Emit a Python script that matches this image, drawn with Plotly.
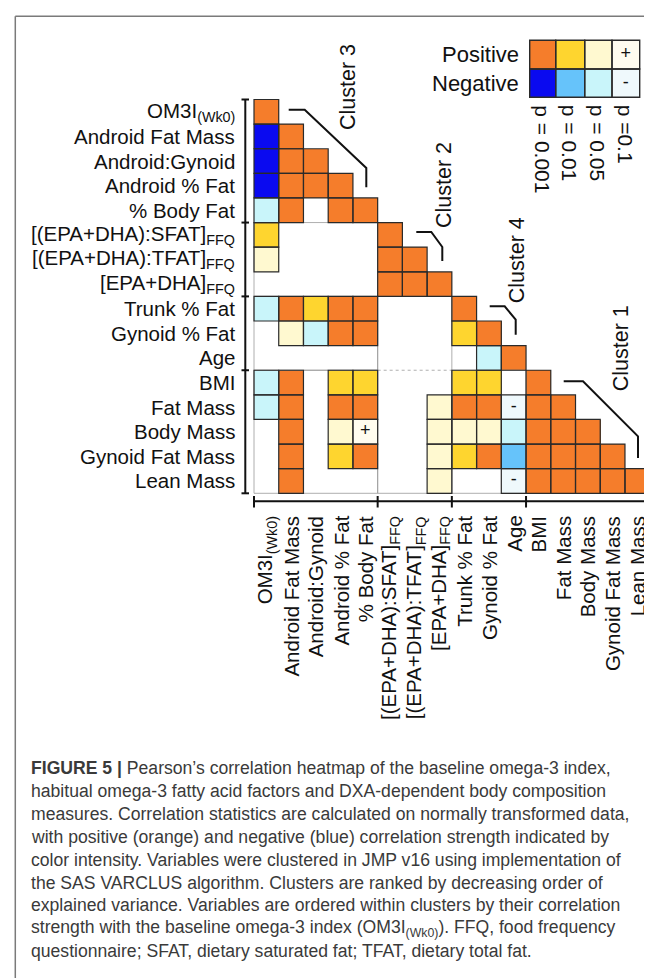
import plotly.graph_objects as go

# variables in cluster order (rows top->bottom, columns left->right)
variables = [
    "OM3I<sub>(Wk0)</sub>", "Android Fat Mass", "Android:Gynoid", "Android % Fat", "% Body Fat",
    "[(EPA+DHA):SFAT]<sub>FFQ</sub>", "[(EPA+DHA):TFAT]<sub>FFQ</sub>", "[EPA+DHA]<sub>FFQ</sub>",
    "Trunk % Fat", "Gynoid % Fat", "Age",
    "BMI", "Fat Mass", "Body Mass", "Gynoid Fat Mass", "Lean Mass",
]
cluster_names = ["Cluster 3", "Cluster 2", "Cluster 4", "Cluster 1"]
cluster_sizes = [5, 3, 3, 5]

# significance code: +/-4 p=0.001, 3 p=0.01, 2 p=0.05, 1 p=0.1, 0 none (lower triangle)
signif = [
    [4],
    [-4, 4],
    [-4, 4, 4],
    [-4, 4, 4, 4],
    [-2, 4, 0, 4, 4],
    [3, 0, 0, 0, 0, 4],
    [2, 0, 0, 0, 0, 4, 4],
    [0, 0, 0, 0, 0, 4, 4, 4],
    [-2, 4, 3, 4, 4, 0, 0, 0, 4],
    [0, 2, -2, 4, 4, 0, 0, 0, 3, 4],
    [0, 0, 0, 0, 0, 0, 0, 0, 0, -2, 4],
    [-2, 4, 0, 3, 3, 0, 0, 0, 3, 3, 0, 4],
    [-2, 4, 0, 4, 4, 0, 0, 2, 4, 4, -1, 4, 4],
    [0, 4, 0, 2, 1, 0, 0, 2, 2, 2, -2, 4, 4, 4],
    [0, 4, 0, 3, 4, 0, 0, 2, 3, 4, -3, 4, 4, 4, 4],
    [0, 4, 0, 0, 0, 0, 0, 2, 0, 0, -1, 4, 4, 4, 4, 4],
]

legend_rows = ["Positive", "Negative"]
legend_codes = [[4, 3, 2, 1], [-4, -3, -2, -1]]
legend_p = ["p = 0.001", "p = 0.01", "p = 0.05", "p =0.1"]

code_colors = {
    -4: "#0a0af0", -3: "#66c3fa", -2: "#c9f5fa", -1: "#eff9fc", 0: "#ffffff",
    1: "#fffcef", 2: "#fff9d0", 3: "#fed52f", 4: "#f57d2b",
}

caption = [
    "<b>FIGURE 5 |</b> Pearson\u2019s correlation heatmap of the baseline omega-3 index,",
    "habitual omega-3 fatty acid factors and DXA-dependent body composition",
    "measures. Correlation statistics are calculated on normally transformed data,",
    "with positive (orange) and negative (blue) correlation strength indicated by",
    "color intensity. Variables were clustered in JMP v16 using implementation of",
    "the SAS VARCLUS algorithm. Clusters are ranked by decreasing order of",
    "explained variance. Variables are ordered within clusters by their correlation",
    "strength with the baseline omega-3 index (OM3I<sub>(Wk0)</sub>). FFQ, food frequency",
    "questionnaire; SFAT, dietary saturated fat; TFAT, dietary total fat.",
]

# ---- page geometry (pixels) ----
W, H = 652, 978
GX0, GX1 = 246.0, 641.7   # grid left/right
GY0, GY1 = 91.5, 485.3    # grid top/bottom
n = len(variables)
cw = (GX1 - GX0) / n
ch = (GY1 - GY0) / n


def px2x(px):
    return (px - GX0) / cw - 0.5


def py2y(py):
    return (py - GY0) / ch - 0.5


FONT = "Liberation Sans, Arial, sans-serif"
steps = list(range(-4, 5))
cscale = []
for k, v in enumerate(steps):
    lo = max(0.0, (k - 0.5) / 8)
    hi = min(1.0, (k + 0.5) / 8)
    cscale += [[lo, code_colors[v]], [hi, code_colors[v]]]

z = [[(row[j] if j < len(row) and row[j] != 0 else None) for j in range(n)] for row in signif]

fig = go.Figure()
fig.add_trace(go.Heatmap(
    z=z, x=list(range(n)), y=list(range(n)), colorscale=cscale, zmin=-4, zmax=4,
    showscale=False, hoverinfo="skip",
))

# legend swatches
lx = [521.7, 547.7, 576.7, 604.0, 631.7]
ly = [32.3, 61.0, 89.3]
fig.add_trace(go.Heatmap(
    z=legend_codes, x=[px2x(v) for v in lx], y=[py2y(v) for v in ly],
    colorscale=cscale, zmin=-4, zmax=4, showscale=False, hoverinfo="skip",
))

shapes = []
# thin block outlines for off-diagonal cluster blocks
starts = [sum(cluster_sizes[:k]) for k in range(len(cluster_sizes))]
thin = dict(color="#9a9a9a", width=0.8)
for a in range(len(cluster_sizes)):
    for b in range(a):
        x0, x1 = starts[b] - 0.5, starts[b] + cluster_sizes[b] - 0.5
        y0, y1 = starts[a] - 0.5, starts[a] + cluster_sizes[a] - 0.5
        # the edge between cluster 4 and cluster 1 rows inside cluster 2 columns is dotted
        top_dotted = (a == 3 and b == 1)
        shapes.append(dict(type="line", x0=x0, x1=x1, y0=y0, y1=y0,
                           line=dict(color="#9a9a9a", width=0.8, dash="dot" if top_dotted else "solid")))
        if not (a == 2 and b == 1):
            shapes.append(dict(type="line", x0=x0, x1=x1, y0=y1, y1=y1, line=thin))
        shapes.append(dict(type="line", x0=x0, x1=x0, y0=y0, y1=y1, line=thin))
        shapes.append(dict(type="line", x0=x1, x1=x1, y0=y0, y1=y1, line=thin))

# cell borders
for i, row in enumerate(signif):
    for j, v in enumerate(row):
        if v != 0:
            shapes.append(dict(type="rect", x0=j - 0.5, x1=j + 0.5, y0=i - 0.5, y1=i + 0.5,
                               line=dict(color="#2a2a2a", width=1.2)))
for r in range(2):
    for c in range(4):
        shapes.append(dict(type="rect", x0=px2x(lx[c]), x1=px2x(lx[c + 1]),
                           y0=py2y(ly[r]), y1=py2y(ly[r + 1]),
                           line=dict(color="#2a2a2a", width=1.4)))

# bracket axes
bounds = [-0.5] + [s + cluster_sizes[k] - 0.5 for k, s in enumerate(starts)]
ax_line = dict(color="#111111", width=2)
shapes.append(dict(type="line", x0=px2x(237.3), x1=px2x(237.3), y0=-0.5, y1=n - 0.5, line=ax_line))
shapes.append(dict(type="line", x0=-0.5, x1=n - 0.5, y0=py2y(493.3), y1=py2y(493.3), line=ax_line))
for b in bounds:
    shapes.append(dict(type="line", x0=px2x(233.5), x1=px2x(241), y0=b, y1=b, line=ax_line))
    shapes.append(dict(type="line", x0=b, x1=b, y0=py2y(488), y1=py2y(499.5), line=ax_line))

# cluster bracket lines
bracket_px = [
    [(280.7, 101.7), (296.7, 101.7), (358.3, 160.0), (358.3, 179.3)],
    [(408.3, 224.0), (423.3, 224.0), (434.3, 239.0), (434.3, 253.0)],
    [(481.7, 298.3), (496.7, 298.3), (507.7, 311.7), (507.7, 326.7)],
    [(555.7, 373.3), (575.0, 373.3), (630.0, 428.3), (630.0, 450.0)],
]
for pts in bracket_px:
    path = "M " + " L ".join(f"{px2x(a):.4f},{py2y(b):.4f}" for a, b in pts)
    shapes.append(dict(type="path", path=path, line=dict(color="#111111", width=2)))

# frame
shapes.append(dict(type="line", xref="paper", yref="paper", x0=7.3 / W, x1=1, y0=1 - 8.3 / H, y1=1 - 8.3 / H,
                   line=dict(color="#7a7a7a", width=1.5)))
shapes.append(dict(type="line", xref="paper", yref="paper", x0=7.3 / W, x1=7.3 / W, y0=0, y1=1 - 8.3 / H,
                   line=dict(color="#7a7a7a", width=1.5)))

# +/- marks
mx, my, mt = [], [], []
for i, row in enumerate(signif):
    for j, v in enumerate(row):
        if abs(v) == 1:
            mx.append(j)
            my.append(i)
            mt.append("+" if v > 0 else "-")
for r in range(2):
    for c in range(4):
        if abs(legend_codes[r][c]) == 1:
            mx.append(px2x((lx[c] + lx[c + 1]) / 2))
            my.append(py2y((ly[r] + ly[r + 1]) / 2))
            mt.append("+" if legend_codes[r][c] > 0 else "-")
fig.add_trace(go.Scatter(x=mx, y=my, mode="text", text=mt, hoverinfo="skip",
                         textfont=dict(family=FONT, size=18, color="#111111")))

ann = []
lab_font = dict(family=FONT, size=20.5, color="#111111")
for i, v in enumerate(variables):
    ann.append(dict(x=px2x(228.5), y=i, text=v, xanchor="right", yanchor="middle",
                    showarrow=False, font=lab_font))
    ann.append(dict(x=i, y=py2y(506), text=v, xanchor="center", yanchor="top",
                    textangle=-90, showarrow=False, font=lab_font))

cluster_label_px = [(340.0, 79.0), (436.0, 177.0), (509.3, 252.0), (613.3, 340.0)]
for name, (a, b) in zip(cluster_names, cluster_label_px):
    ann.append(dict(x=px2x(a), y=py2y(b), text=name, textangle=-90, showarrow=False,
                    xanchor="center", yanchor="middle", font=dict(family=FONT, size=21.5, color="#111111")))

for r, name in enumerate(legend_rows):
    ann.append(dict(x=px2x(513), y=py2y((ly[r] + ly[r + 1]) / 2), text=name, xanchor="right",
                    yanchor="middle", showarrow=False, font=dict(family=FONT, size=22, color="#111111")))
for c, t in enumerate(legend_p):
    ann.append(dict(x=px2x((lx[c] + lx[c + 1]) / 2), y=py2y(95), text=t, textangle=90,
                    xanchor="center", yanchor="top", showarrow=False,
                    font=dict(family=FONT, size=21, color="#111111")))

for k, line in enumerate(caption):
    ann.append(dict(xref="paper", yref="paper", x=21 / W, y=1 - (760 + k * 22.9) / H, text=line,
                    xanchor="left", yanchor="middle", showarrow=False,
                    font=dict(family=FONT, size=17.6, color="#3a3a3a")))

fig.update_layout(
    width=W, height=H, margin=dict(l=0, r=0, t=0, b=0),
    paper_bgcolor="white", plot_bgcolor="white", showlegend=False,
    xaxis=dict(visible=False, range=[px2x(0), px2x(W)], fixedrange=True),
    yaxis=dict(visible=False, range=[py2y(H), py2y(0)], fixedrange=True),
    shapes=shapes, annotations=ann,
)

fig.write_html("out.html")
